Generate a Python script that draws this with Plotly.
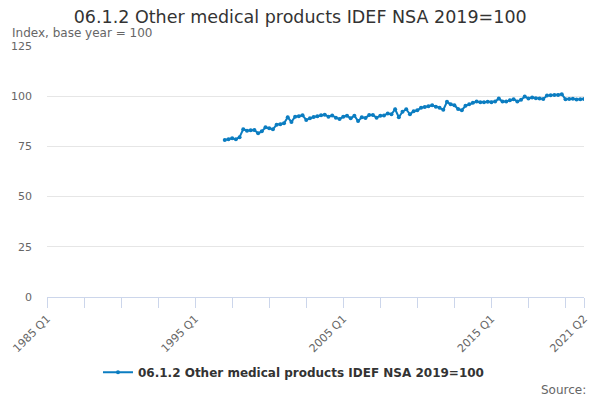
import plotly.graph_objects as go

# Axis categories: every quarter from 1985 Q1 to 2021 Q2
years = list(range(1985, 2022))
quarters = [f"{y} Q{q}" for y in years for q in range(1, 5)]
quarters = quarters[:quarters.index("2021 Q2") + 1]

# Series starts 1997 Q1
start_q = "1997 Q1"
values = [
    78.2, 78.5, 79.0, 78.5, 79.6, 83.6, 82.8, 83.0,
    83.2, 81.5, 82.5, 84.5, 84.0, 83.5, 85.8, 86.0,
    86.5, 89.5, 87.2, 89.8, 90.0, 90.5, 88.2, 89.0,
    89.6, 90.0, 90.5, 90.8, 89.8, 90.4, 89.3, 88.6,
    89.8, 90.3, 89.0, 90.3, 87.6, 89.5, 89.2, 90.6,
    90.6, 89.3, 90.3, 90.4, 91.4, 91.0, 93.5, 89.5,
    92.3, 93.5, 91.0, 92.5, 93.0, 94.3, 94.6, 95.0,
    95.5, 94.8, 94.2, 93.2, 97.2, 96.0, 95.5, 93.6,
    93.0, 95.2, 96.0, 96.8, 97.3, 97.0, 97.0, 97.2,
    97.0, 97.3, 98.8, 97.3, 97.4, 98.0, 98.5, 97.4,
    98.2, 99.8, 98.9, 99.3, 99.0, 98.9, 98.6, 100.3,
    100.5, 100.6, 100.6, 101.0, 98.5, 98.6, 98.7, 98.3,
    98.5, 98.6,
]
i0 = quarters.index(start_q)
x_data = quarters[i0:i0 + len(values)]

series_name = "06.1.2 Other medical products IDEF NSA 2019=100"
labelled = ["1985 Q1", "1995 Q1", "2005 Q1", "2015 Q1", "2021 Q2"]
tick_cats = quarters[::10] + ["2021 Q2"]
tick_text = [q if q in labelled else "" for q in tick_cats]

blue = "#0b7dc1"
grey = "#666666"

fig = go.Figure()
fig.add_trace(go.Scatter(
    x=x_data, y=values, name=series_name,
    mode="lines+markers",
    line=dict(color=blue, width=2),
    marker=dict(color=blue, size=4),
))

# page body adds 8px, so the figure is laid out 8px up/left
fig.update_layout(
    width=600, height=400,
    margin=dict(l=39, r=24, t=38, b=111),
    paper_bgcolor="white", plot_bgcolor="white",
    font=dict(family="DejaVu Sans", color=grey, size=11),
    title=dict(text=series_name, x=0.487, xanchor="center", y=0.977, yanchor="middle",
               font=dict(size=17.5, color="#333333")),
    showlegend=True,
    legend=dict(orientation="h", x=0.459, xanchor="center", y=-0.30, yanchor="middle",
                font=dict(size=12, color="#333333", weight="bold")),
    annotations=[
        dict(text="Index, base year = 100", xref="paper", yref="paper",
             x=-0.069, y=1.05, xanchor="left", yanchor="middle", showarrow=False,
             font=dict(size=12, color=grey)),
        dict(text="Source:", xref="paper", yref="paper",
             x=1.007, y=-0.37, xanchor="right", yanchor="middle", showarrow=False,
             font=dict(size=12, color=grey)),
    ],
)

fig.update_xaxes(
    type="category", categoryorder="array", categoryarray=quarters,
    range=[0, len(quarters) - 1], automargin=False,
    tickmode="array", tickvals=tick_cats, ticktext=tick_text,
    tickangle=-45, ticks="outside", ticklen=10, tickcolor="#ccd6eb",
    showline=True, linecolor="#ccd6eb", showgrid=False, zeroline=False,
    tickfont=dict(size=11, color=grey),
)
fig.update_yaxes(
    range=[0, 125], tickvals=[0, 25, 50, 75, 100, 125], automargin=False,
    showgrid=True, gridcolor="#e6e6e6", zeroline=False, showline=False,
    ticklabelstandoff=14, tickfont=dict(size=11, color=grey),
)

fig.write_html("out.html")
